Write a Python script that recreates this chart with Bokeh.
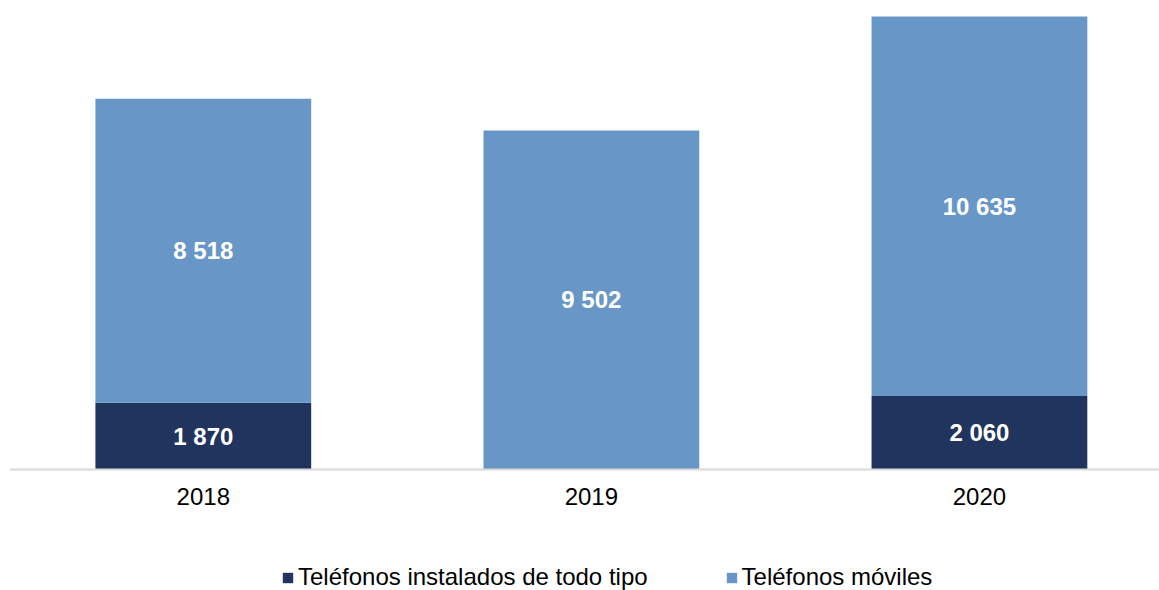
from bokeh.plotting import figure
from bokeh.models import ColumnDataSource, Legend, LegendItem, FixedTicker
from bokeh.layouts import column
from bokeh.core.properties import value
from bokeh.embed import file_html
from bokeh.resources import INLINE

years = ["2018", "2019", "2020"]
fijos = [1870, 0, 2060]
moviles = [8518, 9502, 10635]
series_names = ["Teléfonos instalados de todo tipo", "Teléfonos móviles"]
colors = ["#21345E", "#6897C7"]

def fmt(v):
    return f"{v:,}".replace(",", " ")

xs = list(range(len(years)))
src = ColumnDataSource(dict(x=xs, fijos=fijos, moviles=moviles))

p = figure(width=1159, height=520, output_backend="svg", toolbar_location=None,
           x_range=(-0.4994, 2.464), y_range=(0, 12919),
           min_border_left=9, min_border_right=0, min_border_top=8, min_border_bottom=51)

r = p.vbar_stack(["fijos", "moviles"], x="x", width=0.556, source=src,
                 color=colors, line_color=None)

# labels
lx, ly, lt = [], [], []
for i, (a, b) in enumerate(zip(fijos, moviles)):
    if a > 0:
        lx.append(i); ly.append(a / 2); lt.append(fmt(a))
    if b > 0:
        lx.append(i); ly.append(a + b / 2); lt.append(fmt(b))
p.text(x=lx, y=ly, text=lt, text_color="white", text_font=value("Liberation Sans"),
       text_font_style="bold", text_font_size="24px", text_align="center",
       text_baseline="middle")

p.yaxis.visible = False
p.xgrid.visible = False
p.ygrid.visible = False
p.outline_line_color = None

ax = p.xaxis[0]
ax.ticker = FixedTicker(ticks=xs)
ax.major_label_overrides = {i: y for i, y in zip(xs, years)}
ax.major_tick_line_color = None
ax.minor_tick_line_color = None
ax.major_tick_out = 0
ax.major_tick_in = 0
ax.axis_line_color = "#D9D9D9"
ax.axis_line_width = 2
ax.major_label_standoff = 18
ax.major_label_text_font = "Liberation Sans"
ax.major_label_text_font_size = "24px"
ax.major_label_text_color = "#000000"

# legend strip
q = figure(width=1159, height=70, output_backend="svg", toolbar_location=None,
           x_range=(0, 1), y_range=(0, 1), min_border=0)
q.axis.visible = False
q.grid.visible = False
q.outline_line_color = None
dummy = ColumnDataSource(dict(x=[5], top=[5]))
d0 = q.vbar(x="x", top="top", width=0.1, source=dummy, color=colors[0], line_color=None)
d1 = q.vbar(x="x", top="top", width=0.1, source=dummy, color=colors[1], line_color=None)

legend = Legend(items=[LegendItem(label=series_names[0], renderers=[d0]),
                       LegendItem(label=series_names[1], renderers=[d1])],
                orientation="horizontal", location=(272, -1),
                padding=0, margin=0, spacing=77, label_standoff=4,
                glyph_width=13, glyph_height=13,
                border_line_alpha=0, background_fill_alpha=0,
                label_text_font="Liberation Sans", label_text_font_size="24px",
                label_text_color="#000000")
q.add_layout(legend, "center")

layout = column(p, q, spacing=0)
open("out.html", "w").write(file_html(layout, INLINE))
